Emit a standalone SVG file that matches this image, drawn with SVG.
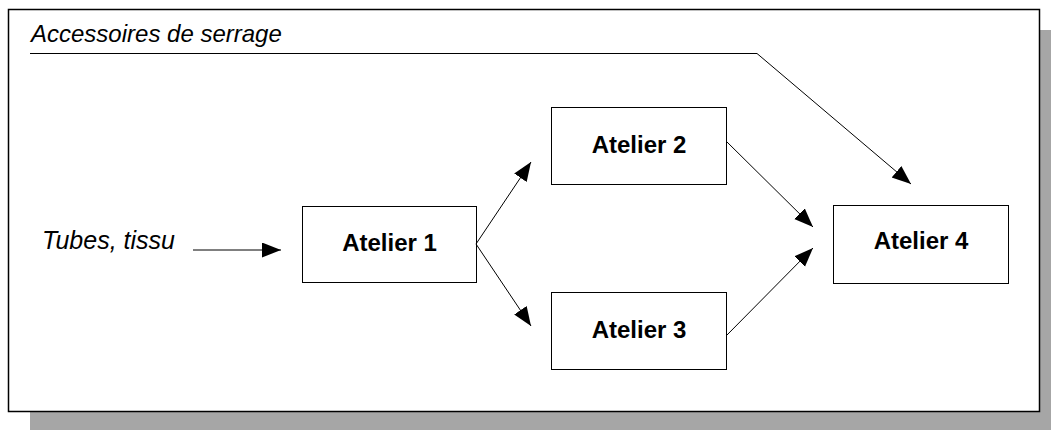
<svg xmlns="http://www.w3.org/2000/svg" width="1051" height="430" viewBox="0 0 1051 430">
<style>
.box{fill:#fff;stroke:#000;stroke-width:1}
.lbl{font-family:"Liberation Sans",Arial,sans-serif;font-size:24px;font-weight:bold;text-anchor:middle;fill:#000}
.it{font-family:"Liberation Sans",Arial,sans-serif;font-size:24px;font-style:italic;fill:#000}
.conn{fill:none;stroke:#000;stroke-width:1}
</style>
<defs>
<marker id="ah" markerUnits="userSpaceOnUse" markerWidth="20" markerHeight="16" refX="19" refY="7.5" orient="auto">
<path d="M0,0 L19,7.5 L0,15 z" fill="#000"/>
</marker>
</defs>
<rect width="1051" height="430" fill="#fff"/>
<rect x="30" y="30" width="1021" height="400" fill="#a6a6a6"/>
<rect x="8.5" y="9.5" width="1031" height="402" fill="#fff" stroke="#000" stroke-width="1.5"/>
<g id="title"><text class="it" x="31" y="42">Accessoires de serrage</text></g>
<g id="input"><text class="it" x="42" y="249" style="font-size:25px">Tubes, tissu</text></g>
<g id="atelier1"><rect class="box" x="302.5" y="206.5" width="174" height="76"/><text class="lbl" x="389.5" y="251">Atelier 1</text></g>
<g id="atelier2"><rect class="box" x="551.5" y="107.5" width="175" height="77"/><text class="lbl" x="639" y="153">Atelier 2</text></g>
<g id="atelier3"><rect class="box" x="551.5" y="292.5" width="175" height="77"/><text class="lbl" x="639" y="338">Atelier 3</text></g>
<g id="atelier4"><rect class="box" x="833.5" y="205.5" width="175" height="78"/><text class="lbl" x="921" y="249">Atelier 4</text></g>
<g id="connectors">
<polyline class="conn" points="30,53.5 757,53.5 911,184" marker-end="url(#ah)"/>
<line class="conn" x1="193" y1="250" x2="281" y2="250" marker-end="url(#ah)"/>
<line class="conn" x1="476" y1="244" x2="531" y2="162" marker-end="url(#ah)"/>
<line class="conn" x1="476" y1="244" x2="531" y2="326" marker-end="url(#ah)"/>
<line class="conn" x1="726" y1="141" x2="813" y2="227" marker-end="url(#ah)"/>
<line class="conn" x1="726" y1="336" x2="813" y2="248" marker-end="url(#ah)"/>
</g>
</svg>
